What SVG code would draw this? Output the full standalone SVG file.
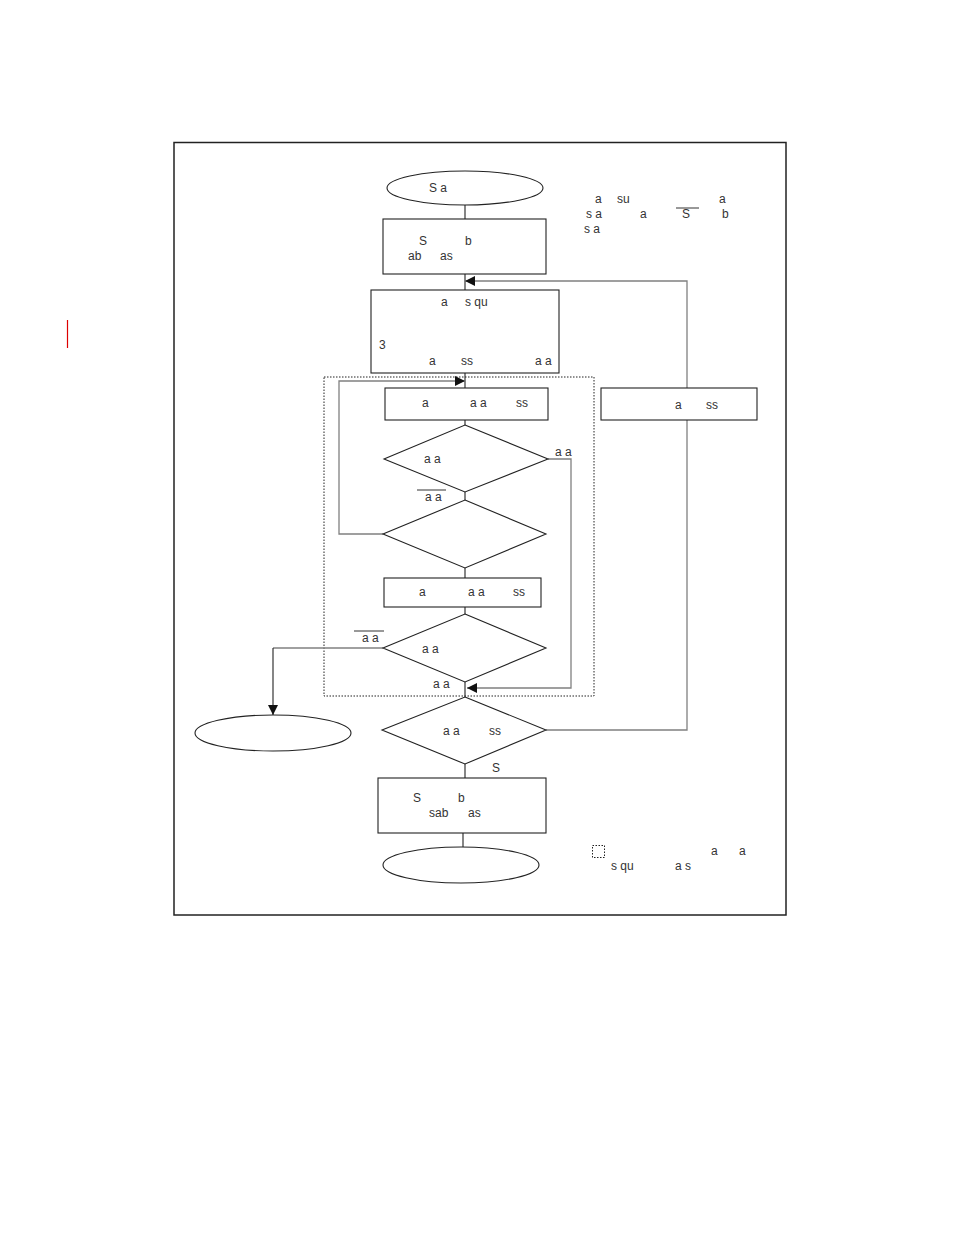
<svg xmlns="http://www.w3.org/2000/svg" width="954" height="1235" viewBox="0 0 954 1235">
<style>
text{font-family:"Liberation Sans",Arial,sans-serif;font-size:12px;fill:#333}
.n{fill:#fff;stroke:#222;stroke-width:1.1}
.c{fill:none;stroke:#808080;stroke-width:1.3}
.k{fill:none;stroke:#222;stroke-width:1.1}
.ob{stroke:#333;stroke-width:1}
</style>
<defs>
<marker id="ah" viewBox="0 0 10 10" refX="10" refY="5" markerWidth="10" markerHeight="10" markerUnits="userSpaceOnUse" orient="auto">
<path d="M0,0L10,5L0,10z" fill="#111"/>
</marker>
</defs>
<rect width="954" height="1235" fill="#fff"/>
<line x1="67.5" y1="320" x2="67.5" y2="348" stroke="#d00" stroke-width="1.2"/>
<rect x="174" y="142.5" width="612" height="772.5" fill="none" stroke="#222" stroke-width="1.5"/>
<rect id="group-box" x="324" y="377" width="270" height="319" fill="none" stroke="#222" stroke-width="1" stroke-dasharray="1.5,1.5"/>

<g id="connectors">
<line class="k" x1="465" y1="205" x2="465" y2="219"/>
<line class="k" x1="465" y1="274" x2="465" y2="290"/>
<line class="k" x1="465" y1="373" x2="465" y2="388"/>
<line class="k" x1="465" y1="420" x2="465" y2="425"/>
<line class="k" x1="465" y1="492" x2="465" y2="500"/>
<line class="k" x1="465" y1="568" x2="465" y2="578"/>
<line class="k" x1="465" y1="607" x2="465" y2="614"/>
<line class="k" x1="465" y1="682" x2="465" y2="697"/>
<line class="k" x1="465" y1="764" x2="465" y2="778"/>
<line class="k" x1="463" y1="833" x2="463" y2="847"/>
<polyline class="c" points="383,534 339,534 339,381 465,381" marker-end="url(#ah)"/>
<polyline class="c" points="548,459 571,459 571,688 467,688" marker-end="url(#ah)"/>
<polyline class="c" points="383,648 273,648" />
<line class="k" x1="273" y1="648" x2="273" y2="715" marker-end="url(#ah)"/>
<polyline class="c" points="546,730 687,730 687,420"/>
<polyline class="c" points="687,388 687,281 465,281" marker-end="url(#ah)"/>
</g>

<g id="start">
<ellipse class="n" cx="465" cy="188" rx="78" ry="17"/>
<text x="429" y="192">S a</text>
</g>
<g id="box1">
<rect class="n" x="383" y="219" width="163" height="55"/>
<text x="419" y="245">S</text><text x="465" y="245">b</text>
<text x="408" y="260">ab</text><text x="440" y="260">as</text>
</g>
<g id="box2">
<rect class="n" x="371" y="290" width="188" height="83"/>
<text x="441" y="306">a</text><text x="465" y="306">s qu</text>
<text x="379" y="349">3</text>
<text x="429" y="365">a</text><text x="461" y="365">ss</text><text x="535" y="365">a a</text>
</g>
<g id="box3">
<rect class="n" x="385" y="388" width="163" height="32"/>
<text x="422" y="407">a</text><text x="470" y="407">a a</text><text x="516" y="407">ss</text>
</g>
<g id="diamond1">
<polygon class="n" points="465,425 548,459 465,492 384,459"/>
<text x="424" y="463">a a</text>
<text x="555" y="456">a a</text>
</g>
<g id="label-notaa1">
<line class="ob" x1="417" y1="490" x2="446" y2="490"/>
<text x="425" y="501">a a</text>
</g>
<g id="diamond2">
<polygon class="n" points="465,500 546,534 465,568 383,534"/>
</g>
<g id="box4">
<rect class="n" x="384" y="578" width="157" height="29"/>
<text x="419" y="596">a</text><text x="468" y="596">a a</text><text x="513" y="596">ss</text>
</g>
<g id="diamond3">
<polygon class="n" points="465,614 546,648 465,682 383,648"/>
<text x="422" y="653">a a</text>
<line class="ob" x1="354" y1="631" x2="384" y2="631"/>
<text x="362" y="642">a a</text>
<text x="433" y="688">a a</text>
</g>
<g id="end-left">
<ellipse class="n" cx="273" cy="733" rx="78" ry="18"/>
</g>
<g id="box5">
<rect class="n" x="601" y="388" width="156" height="32"/>
<text x="675" y="409">a</text><text x="706" y="409">ss</text>
</g>
<g id="diamond4">
<polygon class="n" points="465,697 546,730 465,764 382,730"/>
<text x="443" y="735">a a</text><text x="489" y="735">ss</text>
<text x="492" y="772">S</text>
</g>
<g id="box6">
<rect class="n" x="378" y="778" width="168" height="55"/>
<text x="413" y="802">S</text><text x="458" y="802">b</text>
<text x="429" y="817">sab</text><text x="468" y="817">as</text>
</g>
<g id="end">
<ellipse class="n" cx="461" cy="865" rx="78" ry="18"/>
</g>
<g id="note-top">
<text x="595" y="203">a</text><text x="617" y="203">su</text><text x="719" y="203">a</text>
<text x="586" y="218">s a</text><text x="640" y="218">a</text>
<line class="ob" x1="676" y1="208" x2="699" y2="208"/>
<text x="682" y="218">S</text><text x="722" y="218">b</text>
<text x="584" y="233">s a</text>
</g>
<g id="legend">
<rect x="592.5" y="845.5" width="12" height="12" fill="none" stroke="#222" stroke-width="1" stroke-dasharray="1.5,1.5"/>
<text x="711" y="855">a</text><text x="739" y="855">a</text>
<text x="611" y="870">s qu</text><text x="675" y="870">a s</text>
</g>
</svg>
